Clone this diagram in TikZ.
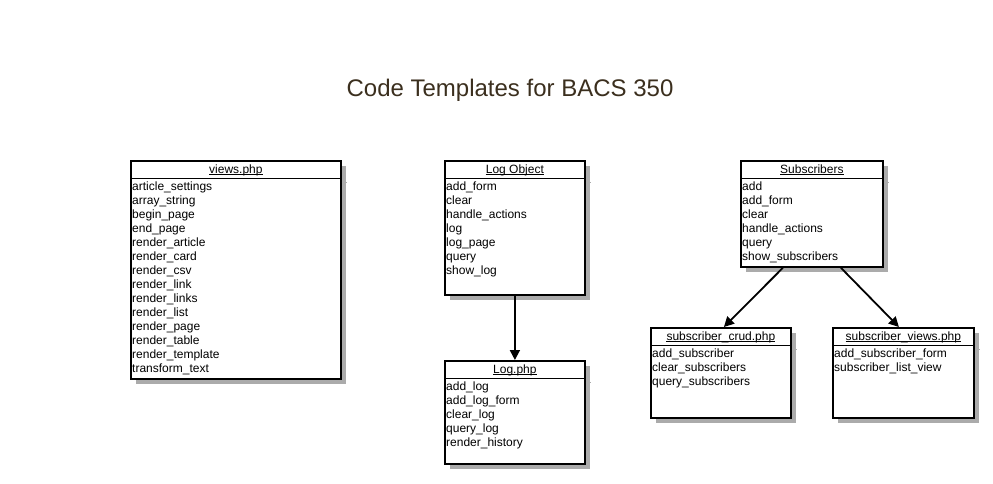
\documentclass[tikz,border=0pt]{standalone}
\usepackage{fontspec}
\setmainfont{Liberation Sans}
\usetikzlibrary{arrows.meta,shadows,calc}
\definecolor{titlecol}{HTML}{3B2F1E}
\definecolor{shadowgray}{HTML}{ABABAB}
\tikzset{
  classbox/.style={draw=black, line width=1.8pt, fill=white, anchor=north west, inner sep=0pt,
    general shadow={fill=shadowgray, shadow xshift=5pt, shadow yshift=-5pt}},
  hdr/.style={anchor=base, inner sep=0pt, font=\fontsize{12}{14}\selectfont},
  rowtext/.style={anchor=base west, inner sep=0pt, font=\fontsize{12}{14}\selectfont},
  link/.style={line width=1.8pt, -{Triangle[length=10pt,width=10pt]}},
}
% #1 name, #2 x, #3 y, #4 w, #5 h, #6 title, #7 rows
\newcommand{\umlclassbox}[7]{%
  \node[classbox, minimum width=#4pt, minimum height=#5pt] (#1) at (#2,#3) {};
  \draw[shadowgray, line width=1pt] ([yshift=-22pt]#1.north east) -- ++(5pt,0);
  \draw[line width=1pt] ([yshift=-18pt]#1.north west) -- ([yshift=-18pt]#1.north east);
  \node[hdr] (#1-title) at ([yshift=-13pt]#1.north) {#6};
  \draw[line width=0.7pt] ([yshift=-1.8pt]#1-title.base west) -- ([yshift=-1.8pt]#1-title.base east);
  \foreach \t [count=\i] in {#7}
    \node[rowtext] (#1-r\i) at ([xshift=2pt,yshift={-30pt-14pt*(\i-1)}]#1.north west) {\t};
}
\begin{document}
\begin{tikzpicture}[x=1pt,y=-1pt]
\useasboundingbox (0,0) rectangle (993,484);
\node[anchor=base, font=\fontsize{24}{28}\selectfont, text=titlecol] (title) at (510,97) {Code Templates for BACS 350};

\umlclassbox{views}{130}{160}{210}{218}{views.php}{article\_settings,array\_string,begin\_page,end\_page,render\_article,render\_card,render\_csv,render\_link,render\_links,render\_list,render\_page,render\_table,render\_template,transform\_text}

\umlclassbox{logobj}{444}{160}{140}{134}{Log Object~}{add\_form,clear,handle\_actions,log,log\_page,query,show\_log}

\umlclassbox{logphp}{444}{360}{140}{103}{Log.php~}{add\_log,add\_log\_form,clear\_log,query\_log,render\_history}

\umlclassbox{subs}{740}{160}{142}{106}{Subscribers}{add,add\_form,clear,handle\_actions,query,show\_subscribers}

\umlclassbox{crud}{650}{327}{140}{90}{subscriber\_crud.php}{add\_subscriber,clear\_subscribers,query\_subscribers}

\umlclassbox{sviews}{832}{327}{141}{90}{subscriber\_views.php}{add\_subscriber\_form,subscriber\_list\_view}

\draw[link] (logobj.south) -- (logphp.north);
\draw[link] ([xshift=-29pt]subs.south) -- ([xshift=3pt]crud.north);
\draw[link] ([xshift=29pt]subs.south) -- ([xshift=-4.5pt]sviews.north);
\end{tikzpicture}
\end{document}
